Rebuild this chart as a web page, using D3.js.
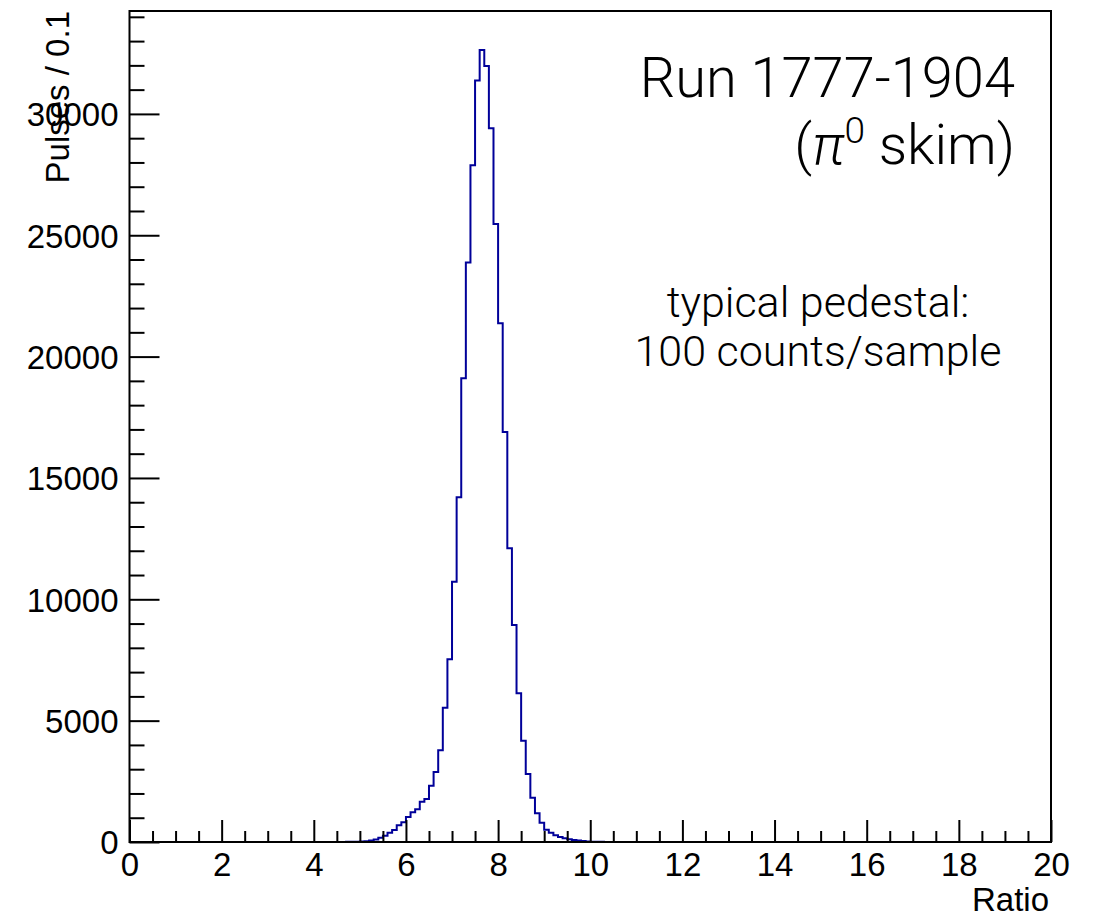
<!DOCTYPE html>
<html>
<head>
<meta charset="utf-8">
<script src="https://cdn.jsdelivr.net/npm/d3@7"></script>
<style>
  body { margin: 0; background: #fff; }
  svg { display: block; }
  .tick-label { font-family: "Liberation Sans", Arial, sans-serif; font-size: 33px; fill: #000; }
  .note { font-family: Roboto, "Liberation Sans", sans-serif; font-weight: 300; fill: #000; }
</style>
</head>
<body>
<div id="chart"></div>
<script>
// histogram: bins of width 0.1, counts start at binStart (all other bins are 0)
const binWidth = 0.1;
const binStart = 4.5;
const counts = [
  3, 4, 6, 8, 12,                                  // 4.5 - 4.9
  20, 35, 60, 100, 177, 260, 383, 494, 688, 812,   // 5.0 - 5.9
  1030, 1224, 1347, 1662, 1772, 2320, 2885, 3778, 5534, 7529, // 6.0 - 6.9
  10727, 14204, 19108, 23873, 27886, 31372, 32637, 31978, 29411, 25467, // 7.0 - 7.9
  21374, 16895, 12103, 8942, 6127, 4174, 2802, 1827, 1183, 790, // 8.0 - 8.9
  500, 380, 280, 210, 150, 110, 80, 60, 40, 25,    // 9.0 - 9.9
  15, 10, 6, 4, 2                                  // 10.0 - 10.4
];
const xDomain = [0, 20];
const yDomain = [0, 34240];
const xMajorTicks = [0, 2, 4, 6, 8, 10, 12, 14, 16, 18, 20];
const yMajorTicks = [0, 5000, 10000, 15000, 20000, 25000, 30000];
const xLabel = "Ratio";
const yLabel = "Pulses / 0.1";
const titleLines = ["Run 1777-1904"];
const noteLines = ["typical pedestal:", "100 counts/sample"];

const width = 1094, height = 917;
const frame = { left: 129.5, right: 1051, top: 11, bottom: 842 };

const svg = d3.select("#chart").append("svg")
  .attr("width", width).attr("height", height);
svg.append("rect").attr("width", width).attr("height", height).attr("fill", "#fff");

const x = d3.scaleLinear().domain(xDomain).range([frame.left, frame.right]);
const y = d3.scaleLinear().domain(yDomain).range([frame.bottom, frame.top]);

// --- histogram outline over the full range
const nBins = Math.round((xDomain[1] - xDomain[0]) / binWidth);
const startIdx = Math.round((binStart - xDomain[0]) / binWidth);
const bins = d3.range(nBins).map(i => {
  const k = i - startIdx;
  return { x0: xDomain[0] + i * binWidth, x1: xDomain[0] + (i + 1) * binWidth,
           v: (k >= 0 && k < counts.length) ? counts[k] : 0 };
});
const pts = [];
bins.forEach(b => { pts.push([b.x0, b.v]); pts.push([b.x1, b.v]); });
const line = d3.line().x(d => x(d[0])).y(d => y(d[1]));
svg.append("path").datum(pts)
  .attr("d", line)
  .attr("fill", "none")
  .attr("stroke", "#000099")
  .attr("stroke-width", 2);

// --- axes (ROOT style: ticks inside)
const xAxis = d3.axisBottom(x)
  .tickValues(d3.range(0, 20.001, 0.5))
  .tickSizeInner(0).tickSizeOuter(0)
  .tickFormat(d => xMajorTicks.includes(d) ? d : "");
const gx = svg.append("g").attr("transform", `translate(0,${frame.bottom})`).call(xAxis);
gx.select(".domain").remove();
gx.selectAll(".tick line")
  .attr("y2", d => xMajorTicks.includes(d) ? -22 : -11)
  .attr("stroke", "#000").attr("stroke-width", 2);
gx.selectAll(".tick text")
  .attr("class", "tick-label")
  .attr("y", 34).attr("dy", 0)
  .attr("font-size", null).attr("font-family", null);

const yAxis = d3.axisLeft(y)
  .tickValues(d3.range(0, 34001, 1000))
  .tickSizeInner(0).tickSizeOuter(0)
  .tickFormat(d => yMajorTicks.includes(d) ? d : "");
const gy = svg.append("g").attr("transform", `translate(${frame.left},0)`).call(yAxis);
gy.select(".domain").remove();
gy.selectAll(".tick line")
  .attr("x2", d => yMajorTicks.includes(d) ? 30 : 15)
  .attr("stroke", "#000").attr("stroke-width", 2);
gy.selectAll(".tick text")
  .attr("class", "tick-label")
  .attr("x", -11).attr("dy", "0.36em")
  .attr("font-size", null).attr("font-family", null);

// frame
svg.append("rect")
  .attr("x", frame.left).attr("y", frame.top)
  .attr("width", frame.right - frame.left).attr("height", frame.bottom - frame.top)
  .attr("fill", "none").attr("stroke", "#000").attr("stroke-width", 2);

// axis titles
svg.append("text").attr("class", "tick-label")
  .attr("x", frame.right - 2).attr("y", 911)
  .attr("text-anchor", "end")
  .text(xLabel);
svg.append("text").attr("class", "tick-label")
  .attr("transform", `translate(69,11) rotate(-90)`)
  .attr("text-anchor", "end")
  .text(yLabel);

// annotations
svg.append("text").attr("class", "note")
  .attr("x", 1015).attr("y", 97).attr("text-anchor", "end")
  .attr("font-size", 56)
  .text(titleLines[0]);
const sub = svg.append("text").attr("class", "note")
  .attr("x", 1015).attr("y", 164).attr("text-anchor", "end")
  .attr("font-size", 56);
sub.append("tspan").text("(");
sub.append("tspan").attr("font-style", "italic").text("π");
sub.append("tspan").attr("font-size", 37).attr("dy", -21).text("0");
sub.append("tspan").attr("dy", 21).text(" skim)");

noteLines.forEach((t, i) => {
  svg.append("text").attr("class", "note")
    .attr("x", 818).attr("y", 317 + i * 49).attr("text-anchor", "middle")
    .attr("font-size", 43)
    .text(t);
});
</script>
</body>
</html>
